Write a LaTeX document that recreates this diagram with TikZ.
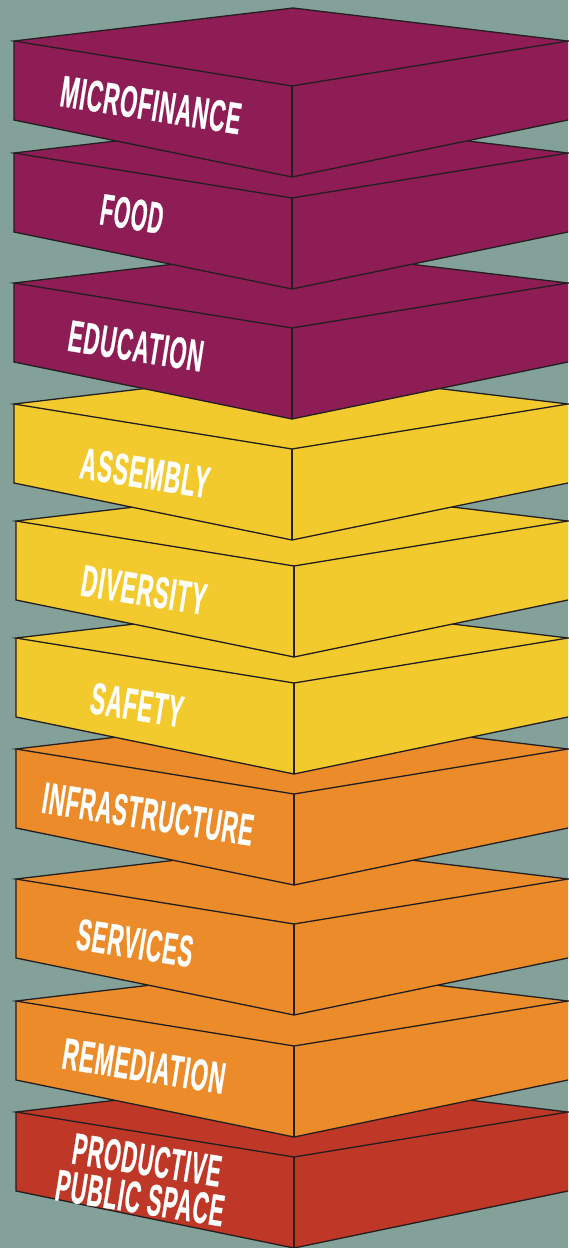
\documentclass[tikz,border=0pt]{standalone}
\usepackage{fontspec}
\setmainfont[BoldFeatures={FakeBold=0.7,LetterSpace=4}]{Liberation Sans}
\usepackage{graphicx}
\definecolor{bgc}{HTML}{84A199}
\definecolor{purplec}{HTML}{8E1D55}
\definecolor{yellowc}{HTML}{F3CA2D}
\definecolor{orangec}{HTML}{EC8B2A}
\definecolor{redc}{HTML}{BF3726}
\definecolor{linec}{HTML}{231F20}
\tikzset{
  face/.style={draw=linec,line width=1.3pt,line join=miter},
  blocklabel/.style={text=white,inner sep=0pt,rotate=-9,font=\bfseries}
}
\newcommand{\stackblock}[3]{% left x, y, colour
  \fill[#3] (#1,#2) -- (#1+279,#2-33) -- (568,#2) -- (568,#2+79) -- (#1+278,#2+136) -- (#1,#2+79) -- cycle;
  \draw[face] (#1,#2) -- (#1+279,#2-33) -- (568,#2) -- (#1+278,#2+45) -- cycle;
  \draw[face] (#1,#2) -- (#1,#2+79) -- (#1+278,#2+136) -- (568,#2+79);
  \draw[face] (#1+278,#2+45) -- (#1+278,#2+136);
}
\newcommand{\blocktext}[5]{% name, x, y, width, text
  \node[blocklabel] (#1) at (#2,#3) {\resizebox{#4pt}{31pt}{#5}};
}
\begin{document}
\begin{tikzpicture}[x=1pt,y=-1pt]
\useasboundingbox (0,0) rectangle (568,1248);
\fill[bgc] (0,0) rectangle (568,1248);
\stackblock{16}{1112}{redc}
\stackblock{16}{1001}{orangec}
\stackblock{16}{879}{orangec}
\stackblock{16}{749}{orangec}
\stackblock{16}{638}{yellowc}
\stackblock{16}{521}{yellowc}
\stackblock{14}{404}{yellowc}
\stackblock{14}{283}{purplec}
\stackblock{14}{153}{purplec}
\stackblock{14}{41}{purplec}
\blocktext{micro}{151}{105}{182}{MICROFINANCE}
\blocktext{food}{132}{214}{63}{FOOD}
\blocktext{edu}{136}{346}{136}{EDUCATION}
\blocktext{assembly}{145}{473}{130}{ASSEMBLY}
\blocktext{diversity}{144}{590}{126}{DIVERSITY}
\blocktext{safety}{137}{705}{93}{SAFETY}
\blocktext{infra}{148}{814}{213}{INFRASTRUCTURE}
\blocktext{services}{135}{943}{117}{SERVICES}
\blocktext{remed}{144}{1066}{164}{REMEDIATION}
\blocktext{prod}{147}{1160}{150}{PRODUCTIVE}
\blocktext{public}{140}{1198}{170}{PUBLIC SPACE}
\end{tikzpicture}
\end{document}
